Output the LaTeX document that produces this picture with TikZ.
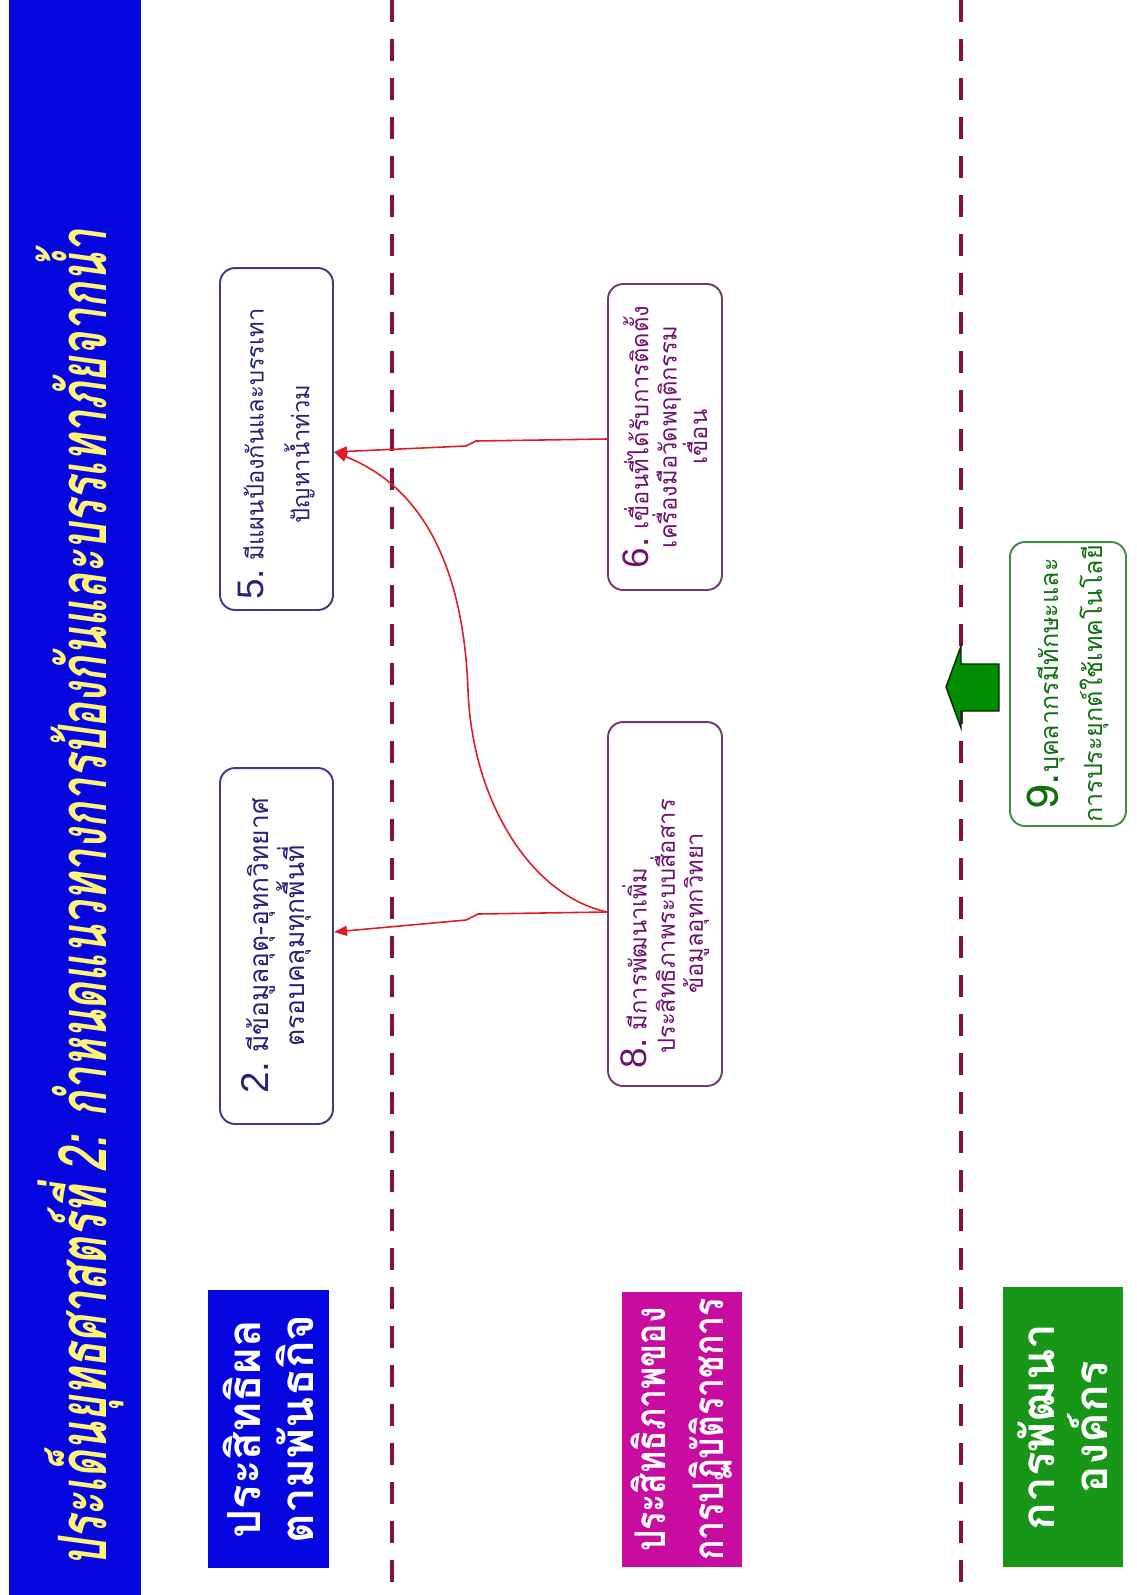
\documentclass[tikz,border=0pt]{standalone}
\usepackage{fontspec}
\setsansfont{Liberation Sans}
\newfontfamily\thai[Script=Thai]{Loma}
\newfontfamily\thaicond[Script=Thai,FakeStretch=0.64]{Loma}
\newfontfamily\thainarrow[Script=Thai,FakeStretch=0.8]{Loma}
\usetikzlibrary{arrows.meta}
\definecolor{barblue}{RGB}{6,6,224}
\definecolor{titleyellow}{RGB}{255,244,120}
\definecolor{navy}{RGB}{36,36,120}
\definecolor{navyline}{RGB}{60,60,140}
\definecolor{plum}{RGB}{110,20,110}
\definecolor{plumline}{RGB}{112,60,112}
\definecolor{leaf}{RGB}{20,110,20}
\definecolor{leafline}{RGB}{70,140,70}
\definecolor{maroon}{RGB}{128,18,62}
\definecolor{labelmagenta}{RGB}{200,12,160}
\definecolor{labelgreen}{RGB}{24,150,24}
\definecolor{linkred}{RGB}{222,30,36}
\definecolor{arrowgreen}{RGB}{0,140,0}
\newcommand{\numfont}{\sffamily\fontsize{21pt}{21pt}\selectfont}
\newcommand{\pad}[1]{\rule{#1}{0pt}}
\begin{document}
\begin{tikzpicture}[x=0.02cm,y=-0.02cm,
  goalbox/.style={rotate=90, draw, rounded corners=0.3cm, line width=1.1pt,
    fill=white, align=center, inner sep=0pt,
    font=\thai\fontsize{13.5pt}{16pt}\selectfont},
  lanelabel/.style={rotate=90, inner sep=0pt, align=center, text=white,
    font=\thai\bfseries\fontsize{26pt}{30pt}\selectfont},
  laneline/.style={maroon, line width=2.8pt, dash pattern=on 0.44cm off 0.34cm},
  redlink/.style={linkred, line width=0.9pt},
  redhead/.style={redlink, -{Triangle[length=2.6mm,width=2mm]}},
]
\useasboundingbox (0,0) rectangle (1136,1595);
\fill[white] (0,0) rectangle (1136,1595);

% title bar
\fill[barblue] (9,0) rectangle (141,1595);
\node[rotate=90, text=titleyellow, inner sep=0pt,
  font=\thaicond\bfseries\itshape\fontsize{38pt}{40pt}\selectfont] (title) at (80,898)
  {ประเด็นยุทธศาสตร์ที่ 2: กำหนดแนวทางการป้องกันและบรรเทาภัยจากน้ำ};

% lane separators
\draw[laneline] (392,0) -- (392,1595);
\draw[laneline] (961,0) -- (961,1595);

% lane labels
\node[lanelabel, fill=barblue, minimum width=5.56cm, minimum height=2.42cm] (lab1) at (268.5,1429)
  {ประสิทธิผล\\ตามพันธกิจ};
\node[lanelabel, fill=labelmagenta, minimum width=5.5cm, minimum height=2.4cm,
  font=\thainarrow\bfseries\fontsize{24pt}{33pt}\selectfont] (lab2) at (682,1429.5)
  {ประสิทธิภาพของ\\การปฏิบัติราชการ};
\node[lanelabel, fill=labelgreen, minimum width=5.6cm, minimum height=2.4cm] (lab3) at (1063,1427)
  {การพัฒนา\\องค์กร};

% goal boxes
\node[goalbox, draw=navyline, text=navy, minimum width=6.84cm, minimum height=2.26cm] (b5) at (276.5,439)
  {{\numfont 5.}~มีแผนป้องกันและบรรเทา\pad{0.6cm}\\[10pt]ปัญหาน้ำท่วม\pad{0.6cm}};
\node[goalbox, draw=navyline, text=navy, minimum width=7.12cm, minimum height=2.26cm,
  font=\thai\fontsize{15pt}{17pt}\selectfont] (b2) at (276.5,946)
  {{\sffamily\fontsize{22pt}{22pt}\selectfont 2.}~มีข้อมูลอุตุ-อุทกวิทยาศ\\ตรอบคลุมทุกพื้นที่};
\node[goalbox, draw=plumline, text=plum, minimum width=6.12cm, minimum height=2.28cm] (b6) at (665,437)
  {{\numfont 6.}~เขื่อนที่ได้รับการติดตั้ง\\เครื่องมือวัดพฤติกรรม\\เขื่อน};
\node[goalbox, draw=plumline, text=plum, minimum width=7.28cm, minimum height=2.28cm,
  align=left] (b8) at (665,904)
  {{\numfont 8.}~มีการพัฒนาเพิ่ม\\\pad{0.3cm}ประสิทธิภาพระบบสื่อสาร\pad{1.2cm}\\\pad{1.5cm}ข้อมูลอุทกวิทยา};
\node[goalbox, draw=leafline, text=leaf, minimum width=5.68cm, minimum height=2.32cm,
  font=\thai\fontsize{14.3pt}{16pt}\selectfont] (b9) at (1068,684)
  {{\thai\fontsize{25pt}{25pt}\selectfont 9.}บุคลากรมีทักษะและ\\[8pt]การประยุกต์ใช้เทคโนโลยี};

% block arrow from the development lane
\filldraw[fill=arrowgreen, draw=black!70!arrowgreen, line width=0.8pt]
  (999,664) -- (961,664) -- (961,646) -- (946,687) -- (961,728) -- (961,711) -- (999,711) -- cycle;

% links between goals
\coordinate (yTopR) at (0,439);
\coordinate (yTopL) at (0,452);
\coordinate (yLowR) at (0,912);
\coordinate (yLowL) at (0,932);
\draw[redhead] (b6.north |- yTopR) -- (476,441) -- (466,446) -- (b5.south |- yTopL);
\draw[redhead] (b8.north |- yLowR) -- (478,914) -- (466,920) -- (b2.south |- yLowL);
\draw[redhead] (b8.north |- yLowR) .. controls (530,895) and (472,800) .. (468,690)
  .. controls (464,580) and (430,490) .. (b5.south |- yTopL);
\end{tikzpicture}
\end{document}
